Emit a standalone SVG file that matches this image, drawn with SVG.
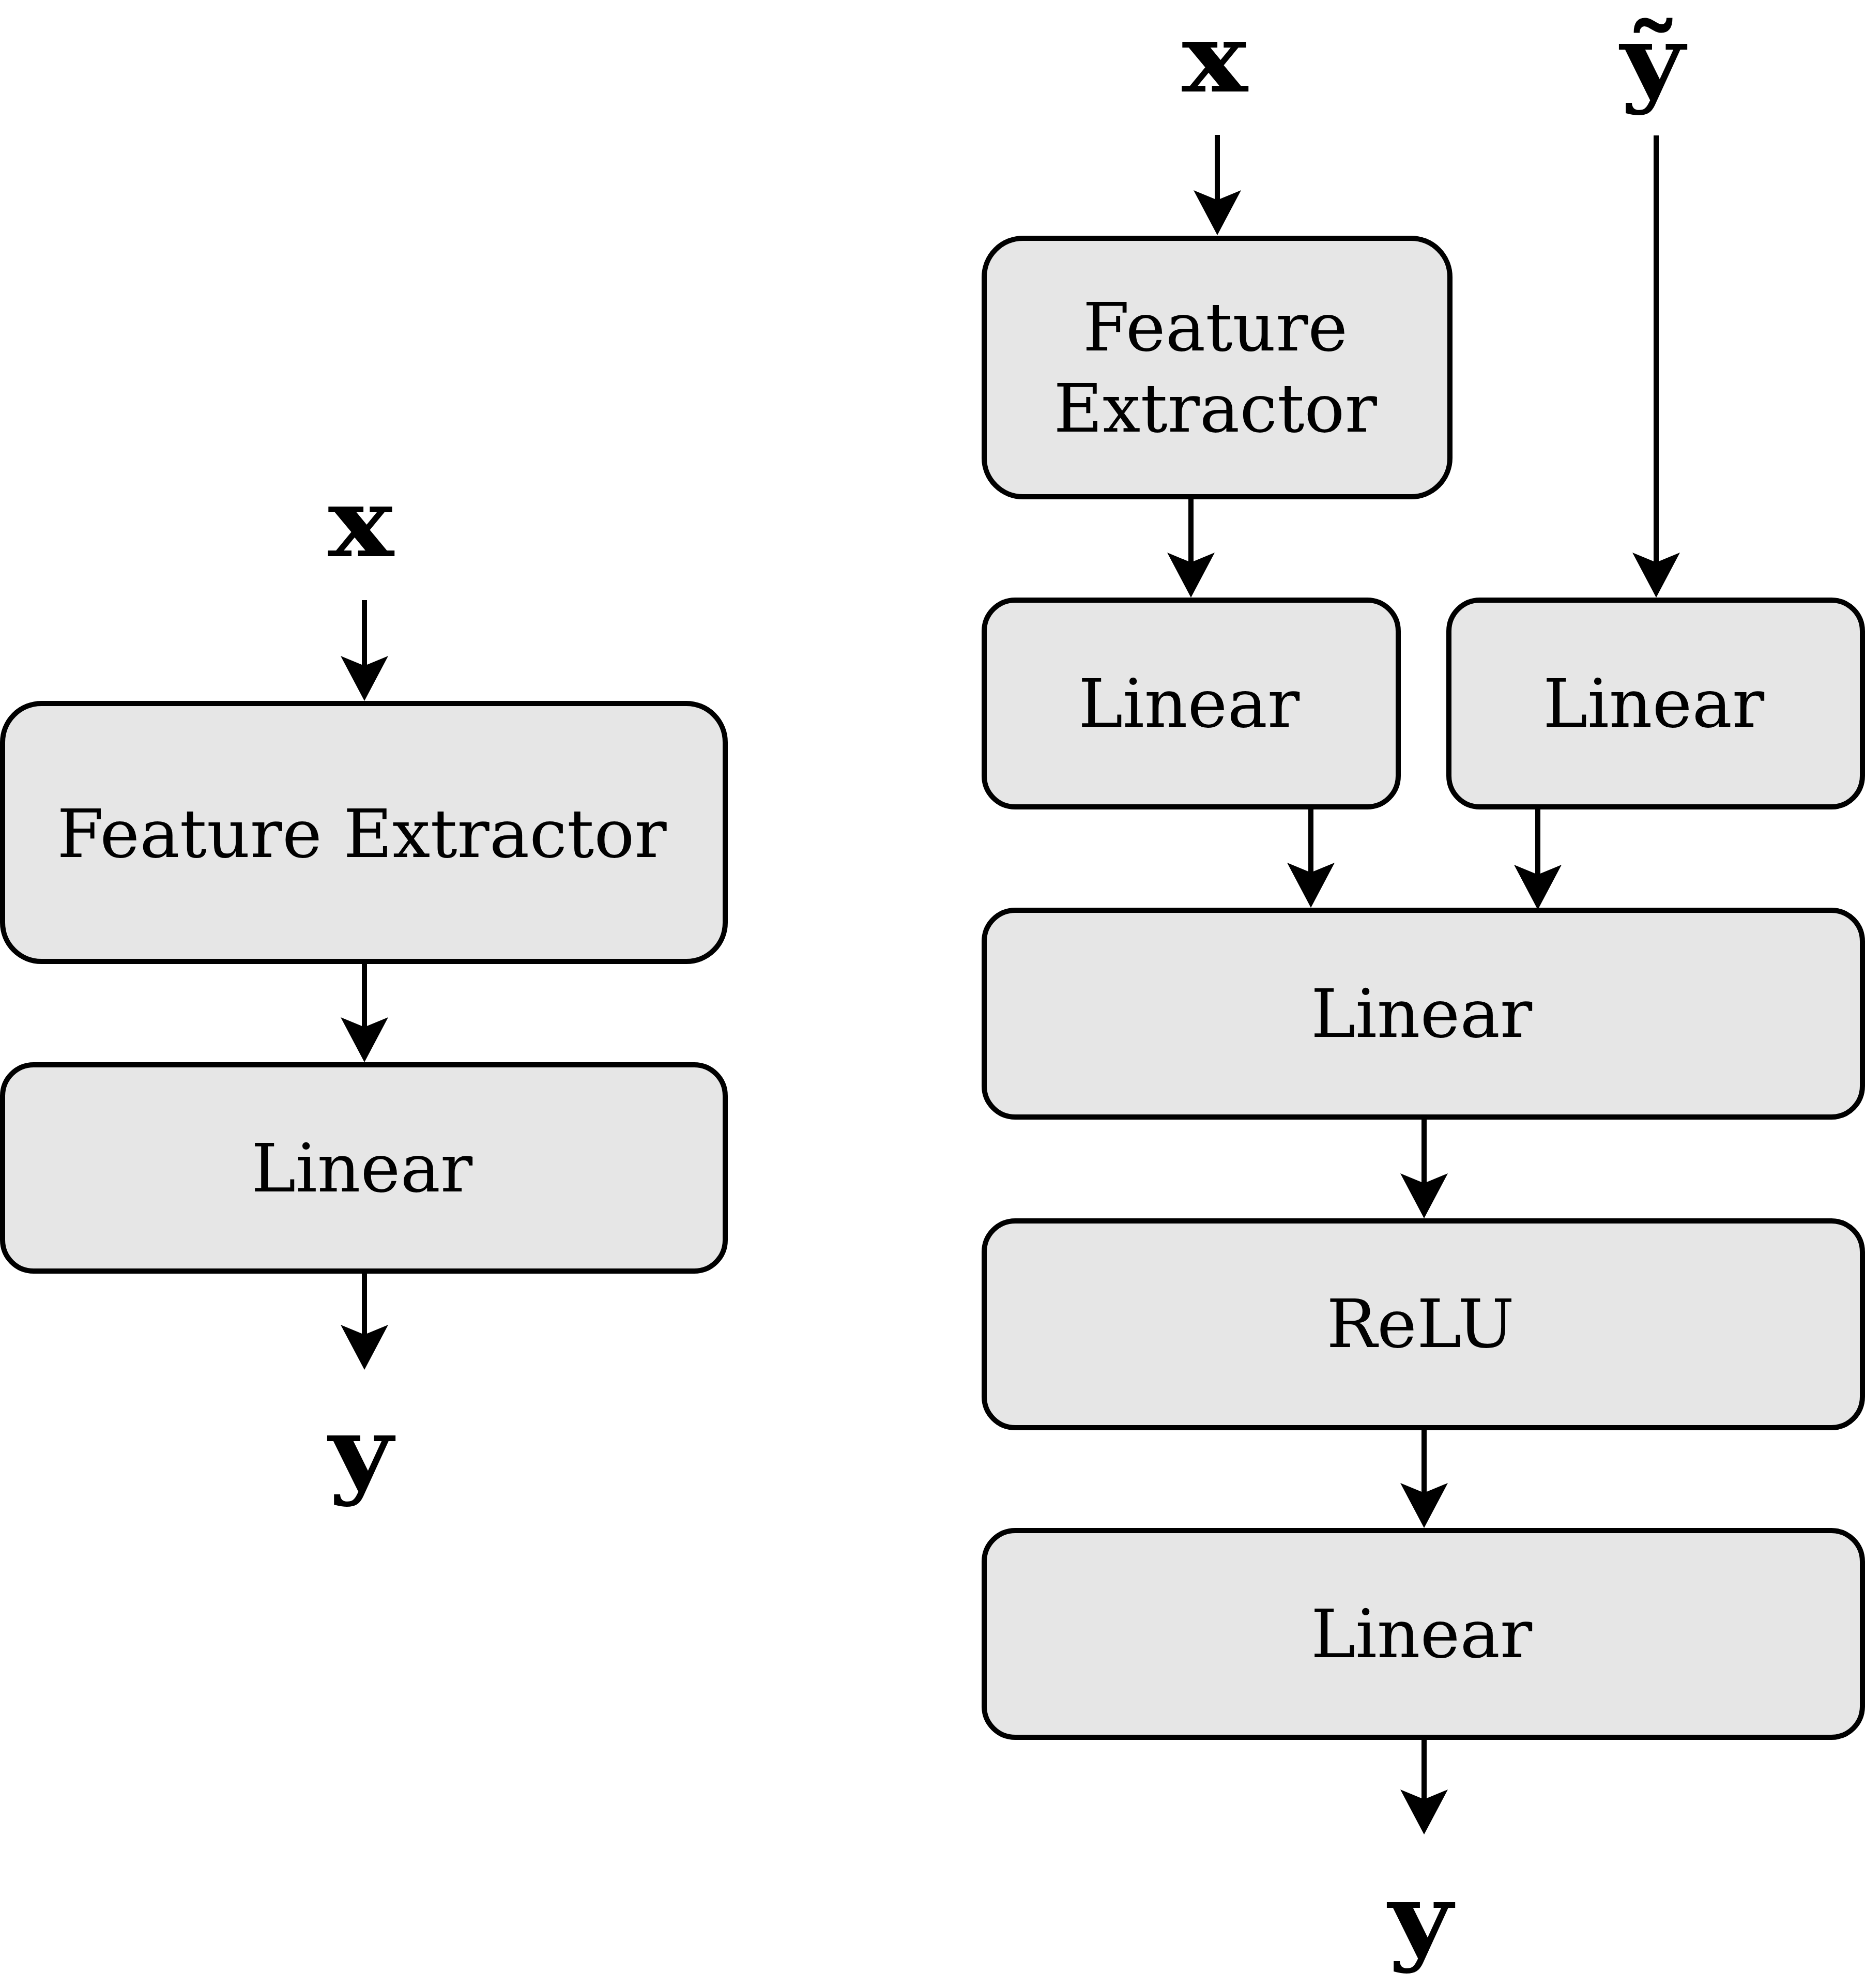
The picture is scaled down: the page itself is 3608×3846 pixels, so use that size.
<svg xmlns="http://www.w3.org/2000/svg" width="3608" height="3846" viewBox="0 0 3608 3846">
<style>
.box{fill:#e6e6e6;stroke:#000;stroke-width:10}
.lbl{font-family:"DejaVu Serif","Liberation Serif",serif;font-size:130px;fill:#000;text-anchor:middle}
.var{font-family:"DejaVu Serif","Liberation Serif",serif;font-size:186px;font-weight:bold;fill:#000;text-anchor:middle}
.edge{fill:none;stroke:#000;stroke-width:10;marker-end:url(#arr)}
</style>
<defs>
<marker id="arr" markerUnits="userSpaceOnUse" viewBox="0 -50 90 100" markerWidth="90" markerHeight="100" refX="57" refY="0" orient="auto">
<path d="M0,-46 L87,0 L0,46 L19,0 Z" fill="#000"/>
</marker>
</defs>
<rect width="3608" height="3846" fill="#fff"/>
<g id="connectors">
<path class="edge" d="M705,1161 V1326"/>
<path class="edge" d="M705,1860 V2025"/>
<path class="edge" d="M705,2459 V2620"/>
<path class="edge" d="M2355,261 V425"/>
<path class="edge" d="M3204,262 V1126"/>
<path class="edge" d="M2304,961 V1126"/>
<path class="edge" d="M2536,1561 V1726"/>
<path class="edge" d="M2975,1561 V1730"/>
<path class="edge" d="M2755,2161 V2327"/>
<path class="edge" d="M2755,2762 V2926"/>
<path class="edge" d="M2755,3361 V3519"/>
</g>
<g id="left-x"><text class="var" transform="translate(698,1076) scale(1.15,1)">x</text></g>
<g id="left-fe"><rect class="box" x="5" y="1361" width="1398" height="499" rx="75" ry="75"/><text class="lbl" x="700" y="1658">Feature Extractor</text></g>
<g id="left-linear"><rect class="box" x="5" y="2060" width="1398" height="399" rx="60" ry="60"/><text class="lbl" x="700" y="2305">Linear</text></g>
<g id="left-y"><text class="var" transform="translate(698,2874) scale(1.15,1)">y</text></g>
<g id="right-x"><text class="var" transform="translate(2350,177) scale(1.15,1)">x</text></g>
<g id="right-ytilde"><text class="var" transform="translate(3197,182) scale(1.15,1)">ỹ</text></g>
<g id="right-fe"><rect class="box" x="1904" y="461" width="901" height="500" rx="75" ry="75"/><text class="lbl" x="2351" y="678">Feature</text><text class="lbl" x="2351" y="835">Extractor</text></g>
<g id="right-linear-a"><rect class="box" x="1904" y="1161" width="801" height="400" rx="60" ry="60"/><text class="lbl" x="2300" y="1406">Linear</text></g>
<g id="right-linear-b"><rect class="box" x="2803" y="1161" width="800" height="400" rx="60" ry="60"/><text class="lbl" x="3199" y="1406">Linear</text></g>
<g id="right-linear-c"><rect class="box" x="1904" y="1761" width="1699" height="400" rx="60" ry="60"/><text class="lbl" x="2750" y="2006">Linear</text></g>
<g id="right-relu"><rect class="box" x="1904" y="2362" width="1699" height="400" rx="60" ry="60"/><text class="lbl" x="2748" y="2606">ReLU</text></g>
<g id="right-linear-d"><rect class="box" x="1904" y="2961" width="1699" height="400" rx="60" ry="60"/><text class="lbl" x="2750" y="3206">Linear</text></g>
<g id="right-y"><text class="var" transform="translate(2748,3777) scale(1.15,1)">y</text></g>
</svg>
